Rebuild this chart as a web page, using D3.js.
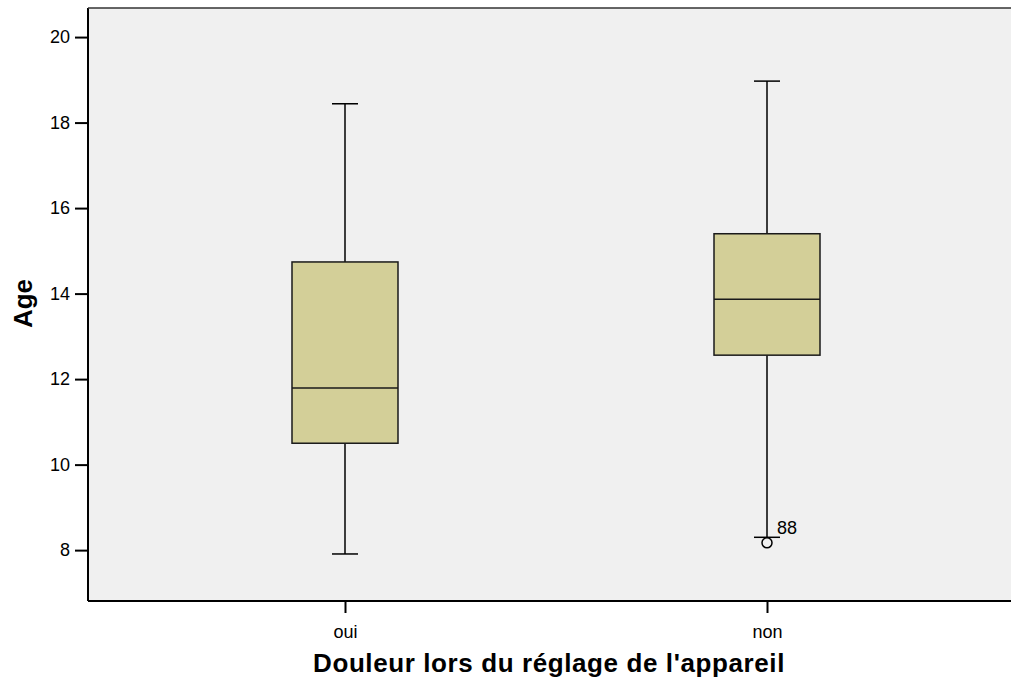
<!DOCTYPE html>
<html>
<head>
<meta charset="utf-8">
<script src="https://cdn.jsdelivr.net/npm/d3@7"></script>
<style>
  body { margin: 0; background: #fff; }
  text { font-family: Arial, "Liberation Sans", sans-serif; }
</style>
</head>
<body>
<div id="chart"></div>
<script>
var categories = ["oui", "non"];
var whiskerLow = [7.91, 8.30];
var q1 = [10.50, 12.56];
var median = [11.79, 13.87];
var q3 = [14.74, 15.40];
var whiskerHigh = [18.44, 18.97];
var outliers = [{cat: "non", value: 8.17, label: "88"}];
var yTicks = [8, 10, 12, 14, 16, 18, 20];

var W = 1011, H = 679;
var margin = {top: 8, right: -13, bottom: 78, left: 88};
var width = W - margin.left - margin.right,
    height = H - margin.top - margin.bottom;

var svg = d3.select("#chart")
    .append("svg")
        .attr("width", W)
        .attr("height", H)
    .append("g")
        .attr("transform", "translate(" + margin.left + "," + margin.top + ")");

var x = d3.scalePoint()
    .domain(categories)
    .range([0, width])
    .padding(0.609);

var y = d3.scaleLinear()
    .domain([6.81, 20.68])
    .range([height, 0]);

svg.append("rect")
    .attr("width", width)
    .attr("height", height)
    .attr("fill", "#f0f0f0");

var boxW = 106, capW = 26;

var boxes = svg.selectAll("g.box")
    .data(categories)
    .enter()
    .append("g")
    .attr("class", "box");

boxes.append("line")
    .attr("x1", function(d) { return x(d); })
    .attr("x2", function(d) { return x(d); })
    .attr("y1", function(d, i) { return y(whiskerHigh[i]); })
    .attr("y2", function(d, i) { return y(q3[i]); })
    .attr("stroke", "#000").attr("stroke-width", 1.5);

boxes.append("line")
    .attr("x1", function(d) { return x(d); })
    .attr("x2", function(d) { return x(d); })
    .attr("y1", function(d, i) { return y(whiskerLow[i]); })
    .attr("y2", function(d, i) { return y(q1[i]); })
    .attr("stroke", "#000").attr("stroke-width", 1.5);

boxes.append("line")
    .attr("x1", function(d) { return x(d) - capW / 2; })
    .attr("x2", function(d) { return x(d) + capW / 2; })
    .attr("y1", function(d, i) { return y(whiskerHigh[i]); })
    .attr("y2", function(d, i) { return y(whiskerHigh[i]); })
    .attr("stroke", "#000").attr("stroke-width", 1.5);

boxes.append("line")
    .attr("x1", function(d) { return x(d) - capW / 2; })
    .attr("x2", function(d) { return x(d) + capW / 2; })
    .attr("y1", function(d, i) { return y(whiskerLow[i]); })
    .attr("y2", function(d, i) { return y(whiskerLow[i]); })
    .attr("stroke", "#000").attr("stroke-width", 1.5);

boxes.append("rect")
    .attr("x", function(d) { return x(d) - boxW / 2; })
    .attr("y", function(d, i) { return y(q3[i]); })
    .attr("width", boxW)
    .attr("height", function(d, i) { return y(q1[i]) - y(q3[i]); })
    .attr("fill", "#d3cf98")
    .attr("stroke", "#1a1a1a")
    .attr("stroke-width", 1.5);

boxes.append("line")
    .attr("x1", function(d) { return x(d) - boxW / 2; })
    .attr("x2", function(d) { return x(d) + boxW / 2; })
    .attr("y1", function(d, i) { return y(median[i]); })
    .attr("y2", function(d, i) { return y(median[i]); })
    .attr("stroke", "#1a1a1a").attr("stroke-width", 1.5);

svg.selectAll("circle.outlier")
    .data(outliers)
    .enter()
    .append("circle")
    .attr("class", "outlier")
    .attr("cx", function(d) { return x(d.cat); })
    .attr("cy", function(d) { return y(d.value); })
    .attr("r", 5)
    .attr("fill", "none")
    .attr("stroke", "#000")
    .attr("stroke-width", 1.5);

svg.selectAll("text.outlier")
    .data(outliers)
    .enter()
    .append("text")
    .attr("x", function(d) { return x(d.cat) + 10; })
    .attr("y", function(d) { return y(d.value) - 9; })
    .style("font-size", "18px")
    .text(function(d) { return d.label; });

// axes
var yAxis = svg.append("g")
    .call(d3.axisLeft(y).tickValues(yTicks).tickSize(13).tickPadding(5).tickFormat(d3.format("d")));
yAxis.select(".domain").remove();
yAxis.selectAll("line").attr("stroke-width", 2);
yAxis.selectAll("text").style("font-size", "18px").attr("fill", "#000");

var xAxis = svg.append("g")
    .attr("transform", "translate(0," + height + ")")
    .call(d3.axisBottom(x).tickSize(12).tickPadding(12));
xAxis.select(".domain").remove();
xAxis.selectAll("line").attr("stroke-width", 2);
xAxis.selectAll("text").style("font-size", "18px").attr("fill", "#000");

// frame: left, top, bottom
svg.append("line").attr("x1", 0).attr("x2", 0).attr("y1", 0).attr("y2", height)
    .attr("stroke", "#000").attr("stroke-width", 2);
svg.append("line").attr("x1", 0).attr("x2", width).attr("y1", height).attr("y2", height)
    .attr("stroke", "#000").attr("stroke-width", 2);
svg.append("line").attr("x1", 0).attr("x2", width).attr("y1", 0).attr("y2", 0)
    .attr("stroke", "#333").attr("stroke-width", 1.5);

svg.append("text")
    .attr("transform", "rotate(-90)")
    .attr("x", -(height / 2) + 1)
    .attr("y", -56)
    .style("text-anchor", "middle")
    .style("font-size", "26px")
    .style("font-weight", "bold")
    .text("Age");

svg.append("text")
    .attr("x", 549 - margin.left)
    .attr("y", height + 71)
    .style("text-anchor", "middle")
    .style("font-size", "26px")
    .style("font-weight", "bold")
    .style("letter-spacing", "0.6px")
    .text("Douleur lors du réglage de l'appareil");
</script>
</body>
</html>
